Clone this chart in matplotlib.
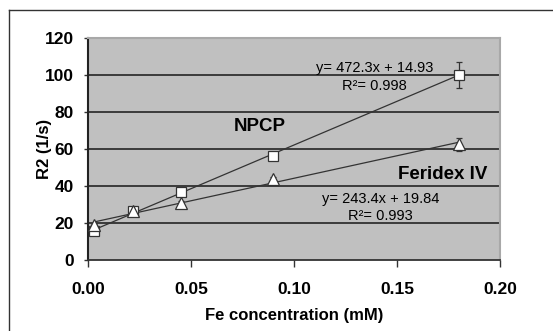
import matplotlib
matplotlib.use("Agg")
import matplotlib.pyplot as plt
from matplotlib.lines import Line2D
import numpy as np

plt.rcParams["font.family"] = ["Liberation Sans", "DejaVu Sans"]

# data
conc = [0.003, 0.022, 0.045, 0.09, 0.18]
npcp = [15.5, 26.5, 37.0, 56.0, 100.0]
npcp_err = [0.5, 0.8, 0.8, 1.0, 6.8]
feridex = [19.0, 26.5, 31.0, 44.0, 62.5]
feridex_err = [0.5, 0.8, 0.8, 1.0, 3.5]

npcp_fit = (472.3, 14.93)
feridex_fit = (243.4, 19.84)
npcp_eq = ["y= 472.3x + 14.93", "R²= 0.998"]
feridex_eq = ["y= 243.4x + 19.84", "R²= 0.993"]

x_ticks = [0.0, 0.05, 0.10, 0.15, 0.20]
y_ticks = [0, 20, 40, 60, 80, 100, 120]

fig = plt.figure(figsize=(5.53, 3.31), dpi=100)
fig.patch.set_facecolor("white")
ax = fig.add_axes([88 / 553, 71 / 331, 412 / 553, 222 / 331])
ax.set_facecolor("#c0c0c0")

ax.set_xlim(0, 0.20)
ax.set_ylim(0, 120)
ax.set_xticks(x_ticks)
ax.set_xticklabels([f"{v:.2f}" for v in x_ticks])
ax.set_yticks(y_ticks)

for y in y_ticks[1:-1]:
    ax.axhline(y, color="#303030", lw=1.3, zorder=1)

# trend lines across the data range
xs = np.array([conc[0], conc[-1]])
for slope, icpt in (npcp_fit, feridex_fit):
    ax.plot(xs, slope * xs + icpt, color="#333333", lw=0.9, zorder=2)

ax.errorbar(conc, npcp, yerr=npcp_err, fmt="s", ms=7.5, mfc="white",
            mec="#333333", mew=0.9, ecolor="#333333", elinewidth=0.9,
            capsize=2.5, zorder=3)
ax.errorbar(conc, feridex, yerr=feridex_err, fmt="^", ms=8, mfc="white",
            mec="#333333", mew=0.9, ecolor="#333333", elinewidth=0.9,
            capsize=2.5, zorder=3)

ax.text(0.0835, 72, "NPCP", fontsize=13.5, fontweight="bold", ha="center", va="center")
ax.text(0.194, 46, "Feridex IV", fontsize=13.5, fontweight="bold", ha="right", va="center")
ax.text(0.139, 103.6, npcp_eq[0], fontsize=10.5, ha="center", va="center")
ax.text(0.139, 94, npcp_eq[1], fontsize=10.5, ha="center", va="center")
ax.text(0.142, 33, feridex_eq[0], fontsize=10.5, ha="center", va="center")
ax.text(0.142, 23.8, feridex_eq[1], fontsize=10.5, ha="center", va="center")

ax.set_xlabel("Fe concentration (mM)", fontsize=12, fontweight="bold", labelpad=8)
ax.set_ylabel("R2 (1/s)", fontsize=12, fontweight="bold", labelpad=-5)

for lab in ax.get_xticklabels() + ax.get_yticklabels():
    lab.set_fontweight("bold")
ax.tick_params(axis="x", labelsize=12.5, length=5, width=1, pad=11, color="#333333")
ax.tick_params(axis="y", labelsize=12.5, length=3, width=1, pad=7, color="#333333")

ax.spines["left"].set_color("#222222")
ax.spines["left"].set_linewidth(1.5)
ax.spines["bottom"].set_color("#333333")
ax.spines["bottom"].set_linewidth(1.3)
for side in ("top", "right"):
    ax.spines[side].set_color("#a8a8a8")
    ax.spines[side].set_linewidth(1.5)

# outer chart frame (partially cropped in the original)
fig.add_artist(Line2D([9 / 553, 1], [1 - 10 / 331, 1 - 10 / 331],
                      transform=fig.transFigure, color="#333333", lw=1))
fig.add_artist(Line2D([9 / 553, 9 / 553], [0, 1 - 10 / 331],
                      transform=fig.transFigure, color="#333333", lw=1))

fig.savefig("out.png", dpi=100)
